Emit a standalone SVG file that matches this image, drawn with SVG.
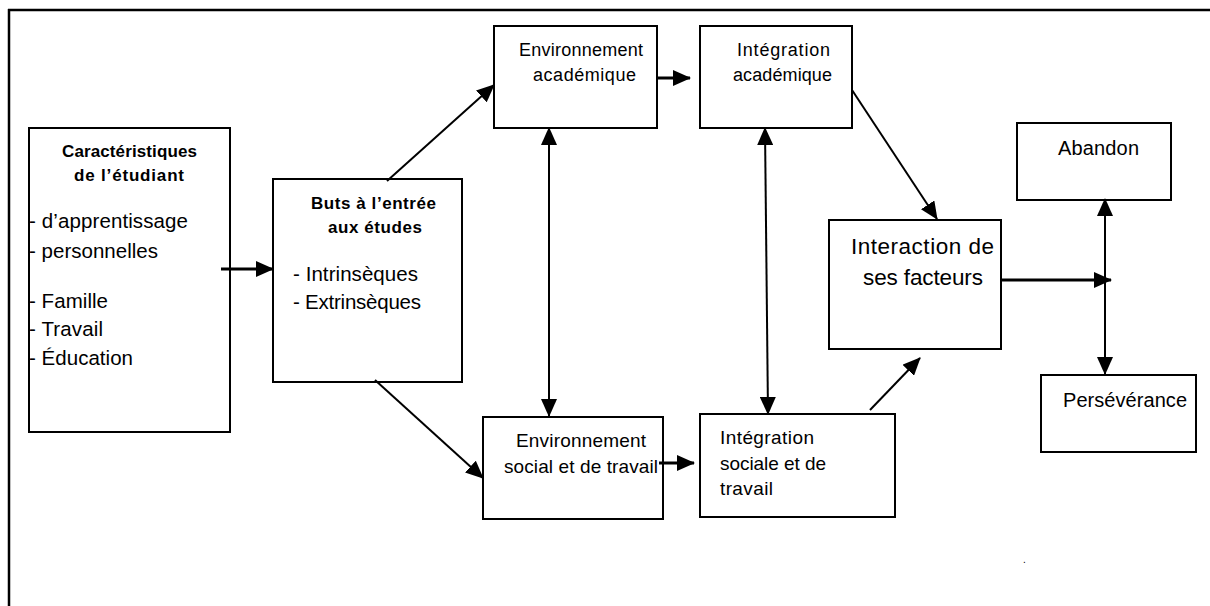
<svg xmlns="http://www.w3.org/2000/svg" width="1210" height="606" viewBox="0 0 1210 606">
<defs>
<style>
.box{fill:#fff;stroke:#000;stroke-width:2}
.t{font-family:"Liberation Sans",Arial,sans-serif;fill:#000}
.b{font-weight:bold;font-size:17px}
.l{font-size:20.5px}
.m{font-size:18px}
.s{font-size:19px}
.big{font-size:22.5px}
.r{font-size:20px}
.c{stroke:#000;stroke-width:2;fill:none}
.c3{stroke-width:3}
.one{marker-end:url(#ah)}
.two{marker-start:url(#ah);marker-end:url(#ah)}
</style>
<marker id="ah" markerUnits="userSpaceOnUse" markerWidth="18" markerHeight="16" refX="17" refY="8" orient="auto-start-reverse" viewBox="0 0 18 16">
<path d="M0,0 L18,8 L0,16 Z" fill="#000"/>
</marker>
</defs>
<rect width="1210" height="606" fill="#fff"/>
<g id="frame">
<line x1="8" y1="10" x2="1210" y2="10" stroke="#000" stroke-width="2.5"/>
<line x1="9" y1="9" x2="9" y2="606" stroke="#000" stroke-width="2.5"/>
</g>
<g id="caracteristiques">
<rect class="box" x="29" y="128" width="201" height="304"/>
<text class="t b" x="62" y="157" textLength="135">Caractéristiques</text>
<text class="t b" x="74" y="181" textLength="110">de l’étudiant</text>
<text class="t l" x="29" y="228" textLength="159">- d’apprentissage</text>
<text class="t l" x="29" y="258" textLength="129">- personnelles</text>
<text class="t l" x="29" y="308" textLength="79">- Famille</text>
<text class="t l" x="29" y="336" textLength="74">- Travail</text>
<text class="t l" x="29" y="365" textLength="104">- Éducation</text>
</g>
<g id="buts">
<rect class="box" x="273" y="179" width="189" height="203"/>
<text class="t b" x="311" y="209" textLength="125">Buts à l’entrée</text>
<text class="t b" x="328" y="233" textLength="94">aux études</text>
<text class="t l" x="293" y="281" textLength="125">- Intrinsèques</text>
<text class="t l" x="293" y="309" textLength="128">- Extrinsèques</text>
</g>
<g id="env-academique">
<rect class="box" x="494" y="26" width="163" height="102"/>
<text class="t m" x="519" y="56" textLength="124">Environnement</text>
<text class="t m" x="533" y="81" textLength="103">académique</text>
</g>
<g id="int-academique">
<rect class="box" x="700" y="26" width="152" height="102"/>
<text class="t m" x="737" y="56" textLength="93">Intégration</text>
<text class="t m" x="733" y="81" textLength="99">académique</text>
</g>
<g id="env-social">
<rect class="box" x="483" y="417" width="180" height="102"/>
<text class="t s" x="516" y="447" textLength="130">Environnement</text>
<text class="t s" x="504" y="473" textLength="154">social et de travail</text>
</g>
<g id="int-social">
<rect class="box" x="700" y="414" width="195" height="103"/>
<text class="t s" x="720" y="444" textLength="94">Intégration</text>
<text class="t s" x="720" y="470" textLength="106">sociale et de</text>
<text class="t s" x="720" y="495" textLength="53">travail</text>
</g>
<g id="interaction">
<rect class="box" x="829" y="220" width="172" height="129"/>
<text class="t big" x="851" y="254" textLength="143">Interaction de</text>
<text class="t big" x="863" y="285" textLength="120">ses facteurs</text>
</g>
<g id="abandon">
<rect class="box" x="1017" y="123" width="154" height="77"/>
<text class="t r" x="1058" y="155" textLength="81">Abandon</text>
</g>
<g id="perseverance">
<rect class="box" x="1041" y="375" width="155" height="77"/>
<text class="t r" x="1063" y="407" textLength="124">Persévérance</text>
</g>
<g id="connectors">
<line class="c c3 one" x1="221" y1="269" x2="273" y2="269"/>
<line class="c one" x1="387" y1="181" x2="494" y2="85"/>
<line class="c one" x1="375" y1="380" x2="483" y2="478"/>
<line class="c c3 one" x1="656" y1="78" x2="690" y2="78"/>
<line class="c two" x1="549" y1="128" x2="549" y2="416"/>
<line class="c two" x1="765" y1="128" x2="768" y2="414"/>
<line class="c c3 one" x1="659" y1="463" x2="694" y2="463"/>
<line class="c one" x1="852" y1="90" x2="937" y2="219"/>
<line class="c one" x1="870" y1="410" x2="920" y2="358"/>
<line class="c c3 one" x1="1001" y1="280" x2="1111" y2="280"/>
<line class="c two" x1="1105" y1="199" x2="1105" y2="374"/>
</g>
<text class="t" x="1023" y="563" font-size="10" fill="#555">.</text>
</svg>
